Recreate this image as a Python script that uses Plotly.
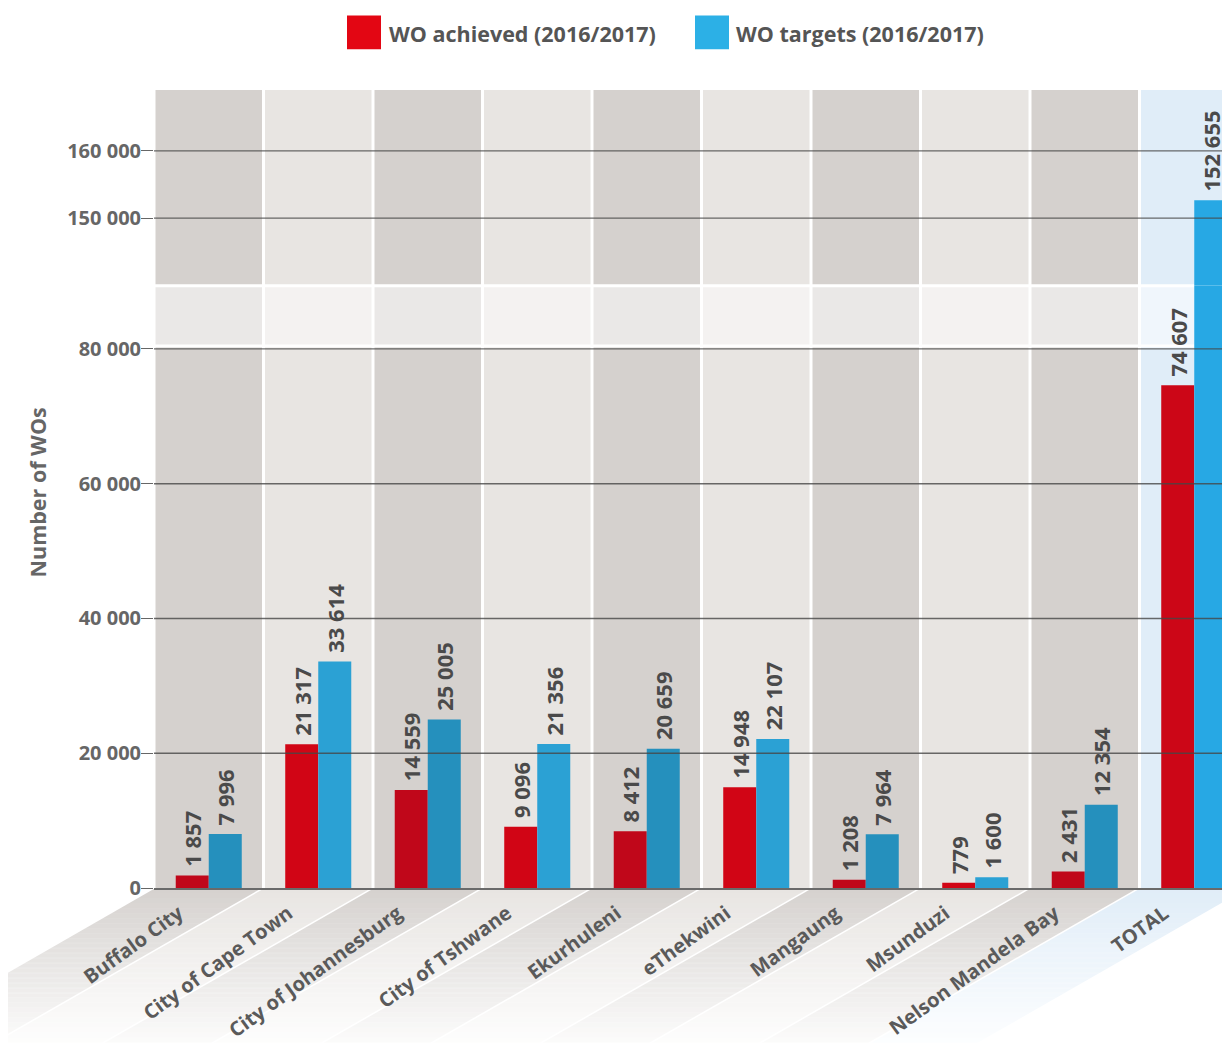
import plotly.graph_objects as go

# ---------------- data ----------------
municipalities = ["Buffalo City", "City of Cape Town", "City of Johannesburg",
                  "City of Tshwane", "Ekurhuleni", "eThekwini", "Mangaung",
                  "Msunduzi", "Nelson Mandela Bay", "TOTAL"]
wo_achieved = [1857, 21317, 14559, 9096, 8412, 14948, 1208, 779, 2431, 74607]
wo_targets = [7996, 33614, 25005, 21356, 20659, 22107, 7964, 1600, 12354, 152655]
bottom_ticks = [0, 20000, 40000, 60000, 80000]
top_ticks = [150000, 160000]
series_names = ["WO achieved (2016/2017)", "WO targets (2016/2017)"]


def fmt(v):
    return "\u00a0" + f"{v:,}".replace(",", " ")


# ---------------- layout constants ----------------
# the page body adds an 8px margin, so the figure is 8px smaller than the window
OFF = 8
W, H = 1230 - OFF, 1043 - OFF
L, R, T, B = 154 - OFF, 0, 90 - OFF, 150
PLOT_W = W - L - R
PLOT_H = H - T - B
SPLIT = 606 / PLOT_H            # bottom panel share
BOTTOM_RANGE = [0, 89380]
TOP_RANGE = [139970, 169026]
XRANGE = [-0.5, -0.5 + PLOT_W / 109.5]
FONT = "Open Sans"
TXT = "#4a4a4a"
TICK = "#666666"

n = len(municipalities)
kind = ["dark" if i % 2 == 0 else "light" for i in range(n)]
kind[-1] = "total"
red_col = {"dark": "#c0071a", "light": "#d10515", "total": "#cc0617"}
blue_col = {"dark": "#2590bd", "light": "#2ba1d4", "total": "#27a8e4"}
bg_col = {"dark": "#d5d1ce", "light": "#e8e5e2", "total": "#e0edf8"}

fig = go.Figure()

txt_font = dict(family=FONT, size=22, color=TXT, weight="bold")

# bottom panel
fig.add_trace(go.Bar(x=municipalities, y=wo_achieved, xaxis="x", yaxis="y",
                     marker=dict(color=[red_col[k] for k in kind], line_width=0),
                     text=[fmt(v) for v in wo_achieved], textposition="outside",
                     textangle=-90, textfont=txt_font, constraintext="none",
                     cliponaxis=False, showlegend=False, name=series_names[0]))
fig.add_trace(go.Bar(x=municipalities, y=wo_targets, xaxis="x", yaxis="y",
                     marker=dict(color=[blue_col[k] for k in kind], line_width=0),
                     text=[fmt(v) if i < n - 1 else "" for i, v in enumerate(wo_targets)],
                     textposition="outside", textangle=-90, textfont=txt_font,
                     constraintext="none", cliponaxis=True,
                     showlegend=False, name=series_names[1]))
# top panel (broken axis)
fig.add_trace(go.Bar(x=municipalities, y=wo_achieved, xaxis="x", yaxis="y2",
                     marker=dict(color=[red_col[k] for k in kind], line_width=0),
                     showlegend=False, name=series_names[0], hoverinfo="skip"))
fig.add_trace(go.Bar(x=municipalities, y=wo_targets, xaxis="x", yaxis="y2",
                     marker=dict(color=[blue_col[k] for k in kind], line_width=0),
                     text=[fmt(v) if i == n - 1 else "" for i, v in enumerate(wo_targets)],
                     textposition="outside", textangle=-90, textfont=txt_font,
                     constraintext="none", cliponaxis=False,
                     showlegend=False, name=series_names[1]))


def cat_to_paper(c):
    return (c - XRANGE[0]) / (XRANGE[1] - XRANGE[0])


shapes = []
h = 1.5 / 109.5
# column backgrounds
for i in range(n):
    shapes.append(dict(type="rect", xref="x", yref="paper", x0=i - 0.5 + h, x1=i + 0.5 - h,
                       y0=0, y1=1, fillcolor=bg_col[kind[i]], line_width=0, layer="below"))
# ribbons beneath the category labels (slanted ~30 degrees)
drop = 0.2
S = drop * PLOT_H * 1.732 / PLOT_W
for i in range(n):
    x0, x1 = cat_to_paper(i - 0.5 + h), cat_to_paper(i + 0.5 - h)
    shapes.append(dict(type="path", xref="paper", yref="paper",
                       path=f"M {x0},0 L {x1},0 L {x1 - S},{-drop} L {x0 - S},{-drop} Z",
                       fillcolor=bg_col[kind[i]], line_width=0, layer="below"))
# fade the ribbons toward white
steps = 32
for k in range(steps):
    shapes.append(dict(type="rect", xref="paper", yref="paper", x0=-0.3, x1=1.1,
                       y0=-drop * k / steps, y1=-drop * (k + 1) / steps - 0.0005,
                       fillcolor="white", opacity=min(0.95, 0.03 + 0.9 * k / (steps - 1)),
                       line_width=0, layer="below"))
# lighter band marking the axis break
shapes.append(dict(type="rect", xref="paper", yref="y", x0=0, x1=1,
                   y0=80450, y1=BOTTOM_RANGE[1], fillcolor="white", opacity=0.5,
                   line_width=0, layer="below"))
shapes.append(dict(type="line", xref="paper", yref="y", x0=0, x1=1,
                   y0=80450, y1=80450, line=dict(color="white", width=3), layer="below"))
shapes.append(dict(type="line", xref="paper", yref="paper", x0=0, x1=1,
                   y0=SPLIT, y1=SPLIT, line=dict(color="white", width=3), layer="below"))
# grid lines drawn over the bars
for v in bottom_ticks[1:]:
    shapes.append(dict(type="line", xref="paper", yref="y", x0=0, x1=1, y0=v, y1=v,
                       line=dict(color="rgba(70,70,70,0.8)", width=1.3), layer="above"))
for v in top_ticks:
    shapes.append(dict(type="line", xref="paper", yref="y2", x0=0, x1=1, y0=v, y1=v,
                       line=dict(color="rgba(70,70,70,0.8)", width=1.3), layer="above"))


def px_x(p):
    return (p - OFF - L) / PLOT_W


def px_y(p):
    return (H - B - (p - OFF)) / PLOT_H


# manual legend
shapes.append(dict(type="rect", xref="paper", yref="paper", x0=px_x(347), x1=px_x(381),
                   y0=px_y(49), y1=px_y(15), fillcolor="#e30613", line_width=0))
shapes.append(dict(type="rect", xref="paper", yref="paper", x0=px_x(695), x1=px_x(729),
                   y0=px_y(49), y1=px_y(15), fillcolor="#2cb0e6", line_width=0))

legend_font = dict(family=FONT, size=21.5, color="#555555", weight="bold")
annotations = [
    dict(text=series_names[0], xref="paper", yref="paper", x=px_x(387), y=px_y(33),
         xanchor="left", yanchor="middle", showarrow=False, font=legend_font),
    dict(text=series_names[1], xref="paper", yref="paper", x=px_x(734), y=px_y(33),
         xanchor="left", yanchor="middle", showarrow=False, font=legend_font),
    dict(text="Number of WOs", xref="paper", yref="paper", x=0, xshift=-117,
         y=px_y(495), xanchor="center", yanchor="middle", textangle=-90, showarrow=False,
         font=dict(family=FONT, size=21.5, color="#666666", weight="bold")),
]

tickfont = dict(family=FONT, size=20, color=TICK, weight="bold")

fig.update_layout(
    width=W, height=H,
    margin=dict(l=L, r=R, t=T, b=B, pad=0),
    paper_bgcolor="white", plot_bgcolor="rgba(0,0,0,0)",
    barmode="group", bargap=0.397, bargroupgap=0,
    separators=". ",
    font=dict(family=FONT, color=TXT),
    showlegend=False,
    xaxis=dict(type="category", range=XRANGE, anchor="y", showgrid=False,
               showline=True, linecolor="#6a6a6a", linewidth=2, ticks="",
               tickangle=-36, ticklabelshift=-30, ticklabelstandoff=4,
               tickfont=dict(family=FONT, size=20, color="#5a5a5a", weight="bold"),
               zeroline=False),
    yaxis=dict(domain=[0, SPLIT], range=BOTTOM_RANGE, tickvals=bottom_ticks,
               tickformat=",d", showgrid=False, zeroline=False, showline=False,
               ticks="outside", ticklen=12, tickwidth=1.3, tickcolor="#666666",
               ticklabelstandoff=-4, tickfont=tickfont, anchor="x"),
    yaxis2=dict(domain=[SPLIT, 1], range=TOP_RANGE, tickvals=top_ticks,
                tickformat=",d", showgrid=False, zeroline=False, showline=False,
                ticks="outside", ticklen=12, tickwidth=1.3, tickcolor="#666666",
                ticklabelstandoff=-4, tickfont=tickfont, anchor="x"),
    shapes=shapes,
    annotations=annotations,
)

fig.write_html("out.html")
